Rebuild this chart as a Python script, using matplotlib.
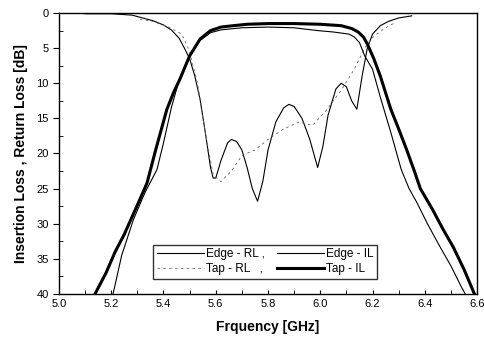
import matplotlib.pyplot as plt
from matplotlib.ticker import MultipleLocator

plt.rcParams['font.family'] = ['Liberation Sans', 'DejaVu Sans']

### données (fréquence en GHz, pertes en dB)
edge_rl_f = [5.10, 5.20, 5.28, 5.32, 5.36, 5.40, 5.43, 5.46, 5.48, 5.50, 5.52, 5.54, 5.56, 5.58,
             5.59, 5.60, 5.62, 5.645, 5.66, 5.68, 5.70, 5.72, 5.74, 5.76, 5.78, 5.80, 5.83, 5.86,
             5.88, 5.90, 5.93, 5.96, 5.99, 6.01, 6.03, 6.06, 6.08, 6.10, 6.12, 6.14, 6.16, 6.18,
             6.20, 6.23, 6.26, 6.30, 6.35]
edge_rl = [0.1, 0.1, 0.3, 0.7, 1.1, 1.7, 2.4, 3.6, 5.0, 6.5, 9.0, 12.3, 17.0, 22.0,
           23.5, 23.5, 21.0, 18.5, 18.0, 18.3, 19.5, 22.0, 25.0, 26.8, 24.0, 19.5, 15.5, 13.5,
           13.0, 13.3, 15.0, 18.0, 22.0, 19.0, 14.5, 10.8, 10.0, 10.5, 12.5, 13.7, 9.0, 5.0,
           3.0, 1.8, 1.2, 0.7, 0.4]

tap_rl_f = [5.31, 5.36, 5.42, 5.47, 5.50, 5.53, 5.56, 5.59, 5.62, 5.66, 5.70, 5.75, 5.80,
            5.86, 5.92, 5.97, 6.02, 6.08, 6.13, 6.17, 6.20, 6.24, 6.28]
tap_rl = [0.9, 1.2, 2.0, 3.0, 5.5, 10.0, 17.0, 23.0, 24.0, 22.5, 20.3, 19.5, 18.0,
          16.5, 15.5, 16.0, 14.0, 11.0, 8.0, 5.0, 3.5, 2.3, 1.5]

tap_il_f = [5.138, 5.18, 5.215, 5.25, 5.28, 5.31, 5.337, 5.37, 5.413, 5.44, 5.463, 5.50, 5.54,
            5.58, 5.62, 5.667, 5.72, 5.80, 5.90, 6.00, 6.08, 6.12, 6.145, 6.165, 6.18, 6.205,
            6.23, 6.27, 6.30, 6.33, 6.36, 6.383, 6.43, 6.47, 6.51, 6.55, 6.59]
tap_il = [40, 37, 34, 31.5, 29, 26.5, 24.2, 19.5, 13.7, 11.2, 9.4, 6.1, 3.7,
          2.5, 2.0, 1.8, 1.6, 1.5, 1.5, 1.6, 1.8, 2.2, 2.7, 3.4, 4.4, 6.5,
          9, 13.7, 16.5, 19.4, 22.5, 25, 28, 30.8, 33.4, 36.5, 40]

edge_il_f = [5.207, 5.24, 5.285, 5.33, 5.375, 5.40, 5.43, 5.46, 5.50, 5.54, 5.58, 5.62, 5.70,
             5.80, 5.90, 5.99, 6.05, 6.11, 6.13, 6.15, 6.17, 6.20, 6.23, 6.27, 6.31, 6.34,
             6.37, 6.41, 6.46, 6.50, 6.54, 6.555]
edge_il = [40, 34.5, 29.4, 25.5, 22.3, 18.5, 13.5, 9.5, 6.2, 3.9, 2.8, 2.4, 2.1,
           2.0, 2.1, 2.5, 2.7, 3.0, 3.4, 4.2, 6.1, 8.0, 12, 17, 22.3, 25,
           27, 30, 33.4, 36, 39, 40]

fig = plt.figure(figsize=(4.85, 3.43), dpi=100)
ax = fig.add_axes([0.1216, 0.143, 0.862, 0.819])

l1, = ax.plot(edge_rl_f, edge_rl, color='black', lw=0.8, label='Edge - RL ,')
l2, = ax.plot(tap_rl_f, tap_rl, color='#666666', lw=0.6, linestyle=(0, (3, 4)), label='Tap - RL   ,')
l3, = ax.plot(edge_il_f, edge_il, color='black', lw=0.8, label='Edge - IL')
l4, = ax.plot(tap_il_f, tap_il, color='black', lw=2.2, label='Tap - IL')

ax.set_xlim(5.0, 6.6)
ax.set_ylim(40, 0)
ax.xaxis.set_major_locator(MultipleLocator(0.2))
ax.xaxis.set_minor_locator(MultipleLocator(0.1))
ax.yaxis.set_major_locator(MultipleLocator(5))
ax.yaxis.set_minor_locator(MultipleLocator(2.5))
ax.tick_params(axis='y', which='major', direction='out', length=4, labelsize=8)
ax.tick_params(axis='y', which='minor', direction='in', length=3)
ax.tick_params(axis='x', which='both', direction='in', length=3, labelsize=8)
for s in ax.spines.values():
    s.set_linewidth(1.0)

ax.set_xlabel('Frquency [GHz]', fontsize=10, fontweight='bold', labelpad=8)
ax.set_ylabel('Insertion Loss , Return Loss [dB]', fontsize=10, fontweight='bold', labelpad=6)

## légende sur deux colonnes (remplissage colonne par colonne)
leg = ax.legend(handles=[l1, l2, l3, l4], ncol=2, loc='upper left',
                bbox_to_anchor=(0.225, 0.175), borderaxespad=0,
                fontsize=8.5, frameon=True, fancybox=False, edgecolor='black',
                handlelength=4.0, handletextpad=0.2, borderpad=0.3, labelspacing=0.25,
                columnspacing=1.0)
leg.get_frame().set_linewidth(1.0)

fig.savefig('out.png', dpi=100)
